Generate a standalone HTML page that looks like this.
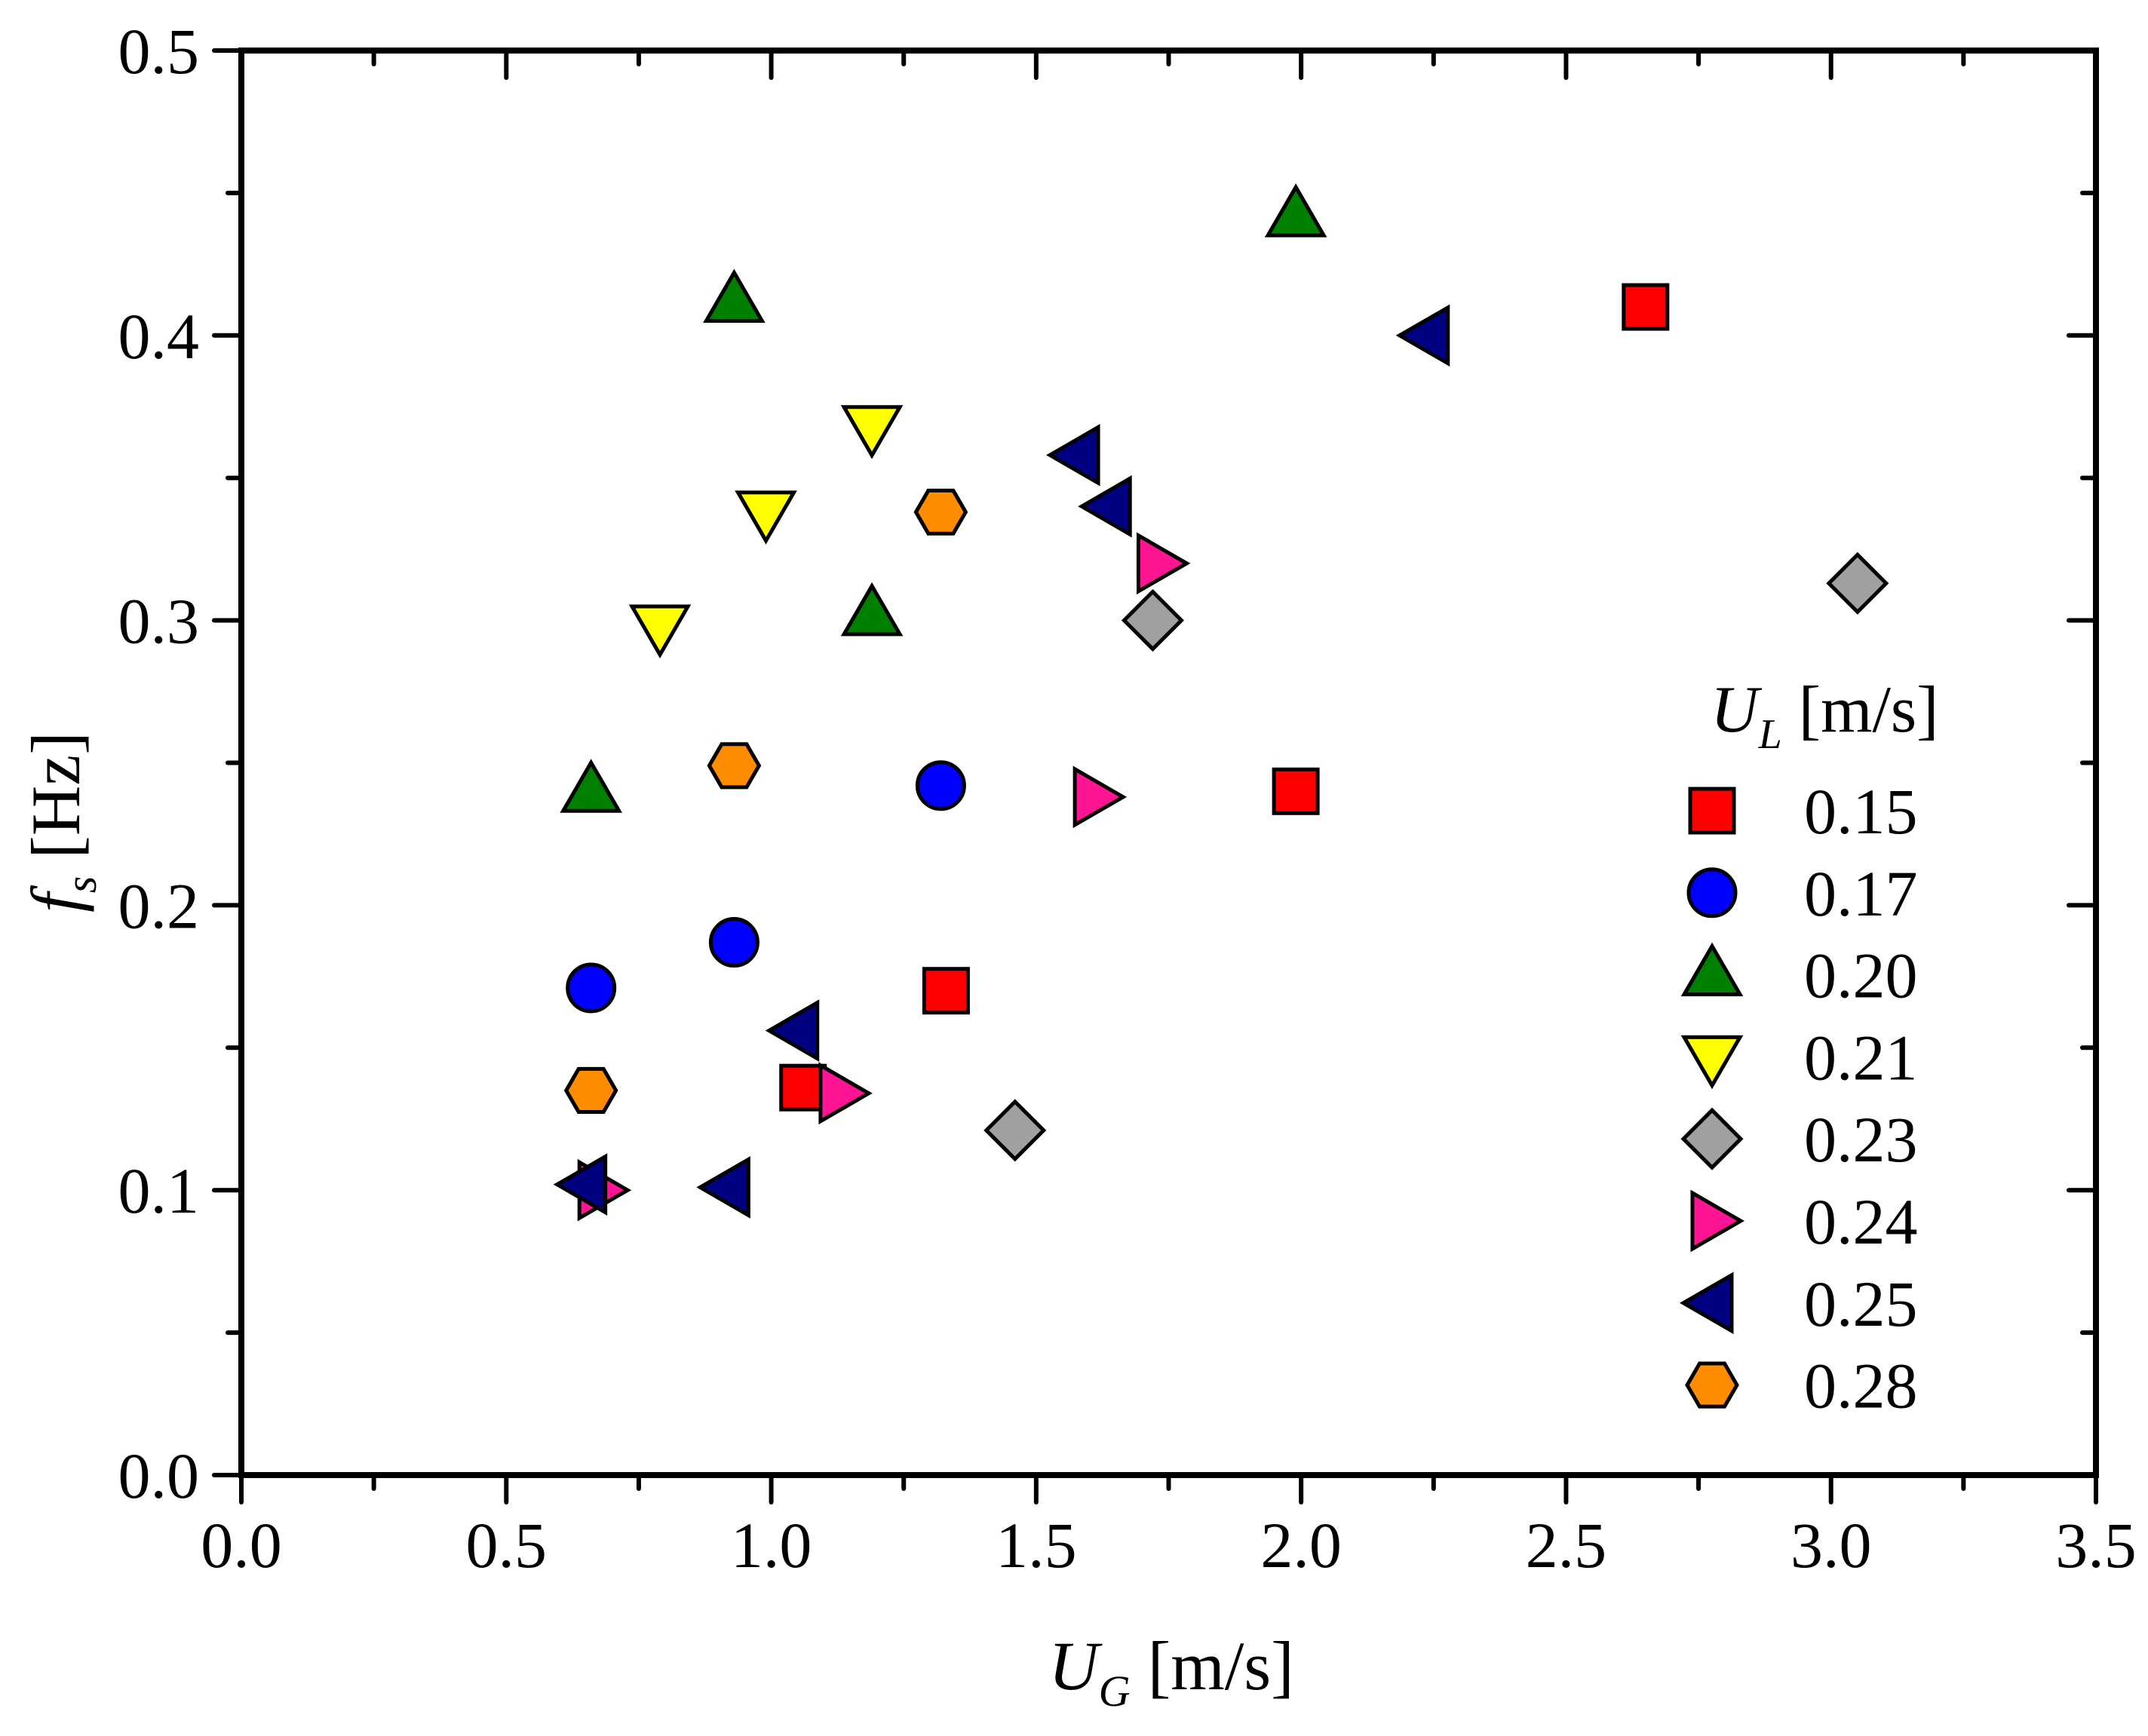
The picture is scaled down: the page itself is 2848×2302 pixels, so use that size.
<!DOCTYPE html>
<html><head><meta charset="utf-8"><style>
body{margin:0;background:#fff}
svg{display:block}
text{font-family:"Liberation Serif",serif;fill:#000}
</style></head><body>
<svg id="chart" width="2848" height="2302" viewBox="0 0 2848 2302" xmlns="http://www.w3.org/2000/svg">
<g id="ticks"></g>
<g id="marks"></g>
<rect x="320" y="67" width="2459" height="1889" fill="none" stroke="#000" stroke-width="8"/>
<g id="legend">
<text x="2268" y="970" font-size="88"><tspan font-style="italic">U</tspan><tspan font-style="italic" font-size="56" dy="22">L</tspan><tspan dy="-22"> [m/s]</tspan></text>
</g>
<text x="1553" y="2240" font-size="92" text-anchor="middle"><tspan font-style="italic">U</tspan><tspan font-style="italic" font-size="58" dy="22">G</tspan><tspan dy="-22"> [m/s]</tspan></text>
<text transform="translate(105,1090) rotate(-90)" font-size="92" text-anchor="middle"><tspan font-style="italic">f</tspan><tspan font-style="italic" font-size="58" dy="22">s</tspan><tspan dy="-22"> [Hz]</tspan></text>
</svg>
<script>
const seriesLabels=["0.15","0.17","0.20","0.21","0.23","0.24","0.25","0.28"];
const seriesShapes=["square","circle","up","down","diamond","right","left","hex"];
const seriesColors=["#ff0000","#0000ff","#008000","#ffff00","#a0a0a0","#ff1493","#000080","#ff8c00"];
const x015=[2.65,1.99,1.33,1.06];const y015=[0.41,0.24,0.17,0.136];
const x017=[1.32,0.93,0.66];const y017=[0.242,0.187,0.171];
const x020=[1.99,0.93,1.19,0.66];const y020=[0.442,0.412,0.302,0.24];
const x021=[1.19,0.99,0.79];const y021=[0.368,0.338,0.298];
const x023=[3.05,1.72,1.46];const y023=[0.313,0.30,0.121];
const x024=[1.73,1.61,1.13,0.675];const y024=[0.32,0.238,0.134,0.1];
const x025=[2.24,1.58,1.64,1.05,0.92,0.65];const y025=[0.40,0.358,0.34,0.156,0.101,0.102];
const x028=[1.32,0.93,0.66];const y028=[0.338,0.249,0.135];
const xTicks=["0.0","0.5","1.0","1.5","2.0","2.5","3.0","3.5"];
const yTicks=["0.0","0.1","0.2","0.3","0.4","0.5"];
const xs=[x015,x017,x020,x021,x023,x024,x025,x028];
const ys=[y015,y017,y020,y021,y023,y024,y025,y028];
const L=320,R=2779,T=67,B=1956;
const X=v=>L+v/3.5*(R-L);
const Y=v=>B-v/0.5*(B-T);
const NS="http://www.w3.org/2000/svg";
function mk(tag,attrs,parent){const e=document.createElementNS(NS,tag);for(const k in attrs)e.setAttribute(k,attrs[k]);parent.appendChild(e);return e;}
const tg=document.getElementById('ticks');
function line(x1,y1,x2,y2,name){const l=mk('line',{x1:x1,y1:y1,x2:x2,y2:y2,stroke:'#000','stroke-width':6,'stroke-linecap':'round'},tg);

}
for(let i=0;i<=14;i++){const v=i*0.25,px=X(v),maj=i%2==0,len=maj?36:18;
line(px,B,px,B+len,'x-tick');line(px,T,px,T+len,'x-tick-top');
if(maj){const t=mk('text',{x:px,y:2078,'font-size':86,'text-anchor':'middle'},tg);t.textContent=xTicks[i/2];

}}
for(let i=0;i<=10;i++){const v=i*0.05,py=Y(v),maj=i%2==0,len=maj?36:18;
line(L,py,L-len,py,'y-tick');line(R,py,R-len,py,'y-tick-right');
if(maj){const t=mk('text',{x:264,y:py+30,'font-size':86,'text-anchor':'end'},tg);t.textContent=yTicks[i/2];

}}
function marker(shape,cx,cy,color,parent){const s=34;let e;const a={fill:color,stroke:'#000','stroke-width':5,'stroke-linejoin':'miter'};
if(shape=='square')e=mk('rect',Object.assign({x:cx-29,y:cy-29,width:58,height:58},a),parent);
else if(shape=='circle')e=mk('circle',Object.assign({cx:cx,cy:cy,r:31},a),parent);
else{let p;
if(shape=='up')p=[[0,-38],[37,26],[-37,26]];
else if(shape=='down')p=[[0,38],[37,-26],[-37,-26]];
else if(shape=='right')p=[[38,0],[-26,37],[-26,-37]];
else if(shape=='left')p=[[-38,0],[26,37],[26,-37]];
else if(shape=='diamond')p=[[0,-38],[38,0],[0,38],[-38,0]];
else p=[0,1,2,3,4,5].map(k=>[33*Math.cos(Math.PI/3*k),33*Math.sin(Math.PI/3*k)]);
e=mk('polygon',Object.assign({points:p.map(q=>(cx+q[0])+','+(cy+q[1])).join(' ')},a),parent);}
return e;}
const mg=document.getElementById('marks');
for(let s=0;s<8;s++){for(let j=0;j<xs[s].length;j++){const e=marker(seriesShapes[s],X(xs[s][j]),Y(ys[s][j]),seriesColors[s],mg);

}}
const lg=document.getElementById('legend');
for(let s=0;s<8;s++){const y=1075+s*108.8;const e=marker(seriesShapes[s],2270,y,seriesColors[s],lg);


const t=mk('text',{x:2392,y:y+30,'font-size':86},lg);t.textContent=seriesLabels[s];

}
</script>
</body></html>
